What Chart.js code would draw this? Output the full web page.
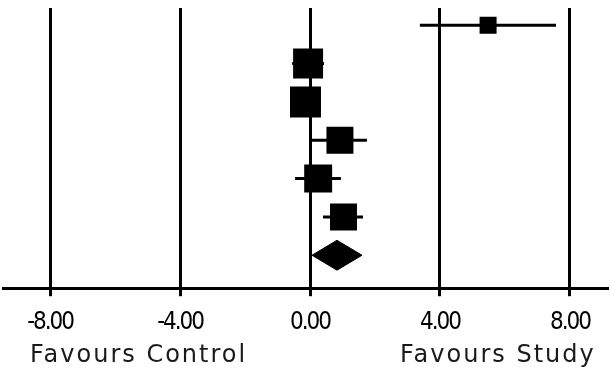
<!DOCTYPE html>
<html>
<head>
<meta charset="utf-8">
<script src="https://cdn.jsdelivr.net/npm/chart.js@4/dist/chart.umd.min.js"></script>
<style>
  body { margin: 0; background: #fff; }
  #wrap { width: 610px; height: 372px; position: relative; }
</style>
</head>
<body>
<div id="wrap"><canvas id="forest"></canvas></div>
<script>
// study rows, top to bottom
var rows = [1, 2, 3, 4, 5, 6];
var est = [5.48, -0.06, -0.14, 0.92, 0.25, 1.03];
var lo = [3.38, -0.55, -0.40, 0.05, -0.46, 0.40];
var hi = [7.57, 0.43, 0.12, 1.75, 0.95, 1.63];
var weights = [6.6, 20.5, 21.9, 16.6, 17.8, 16.6];

// pooled estimate (diamond)
var pooledRow = 7;
var pooled = { est: 0.83, lo: 0.06, hi: 1.60 };

var tickVals = [-8, -4, 0, 4, 8];
var leftLabel = "Favours Control";
var rightLabel = "Favours Study";

var datasets = [];

// confidence interval lines
for (var i = 0; i < rows.length; i++) {
  datasets.push({
    type: "line",
    data: [{ x: lo[i], y: rows[i] }, { x: hi[i], y: rows[i] }],
    borderColor: "#000",
    borderWidth: 3,
    pointRadius: 0,
    fill: false
  });
}

// study squares, side ~ sqrt(weight)
datasets.push({
  type: "scatter",
  data: rows.map(function(r, i) { return { x: est[i], y: r }; }),
  pointStyle: "rect",
  pointRadius: weights.map(function(w) { return 4.68 * Math.sqrt(w); }),
  backgroundColor: "#000",
  borderWidth: 0
});

// pooled diamond
var dh = 0.39;
datasets.push({
  type: "line",
  data: [
    { x: pooled.lo, y: pooledRow },
    { x: pooled.est, y: pooledRow - dh },
    { x: pooled.hi, y: pooledRow },
    { x: pooled.est, y: pooledRow + dh },
    { x: pooled.lo, y: pooledRow }
  ],
  borderColor: "#000",
  borderWidth: 1,
  backgroundColor: "#000",
  pointRadius: 0,
  tension: 0,
  fill: "shape"
});

// tighter tick label spacing
var tightTicks = {
  id: "tightTicks",
  beforeDraw: function(chart) {
    chart.ctx.letterSpacing = "-2px";
  }
};

var favoursLabels = {
  id: "favoursLabels",
  afterDraw: function(chart) {
    var ctx = chart.ctx;
    ctx.save();
    ctx.font = '24px "DejaVu Sans"';
    ctx.letterSpacing = "2px";
    ctx.fillStyle = "#1a1a1a";
    ctx.textBaseline = "alphabetic";
    ctx.textAlign = "left";
    ctx.fillText(leftLabel, 30, 362);
    ctx.fillText(rightLabel, 400, 362);
    ctx.restore();
  }
};

new Chart(document.getElementById("forest"), {
  type: "scatter",
  data: { datasets: datasets },
  options: {
    responsive: true,
    maintainAspectRatio: false,
    animation: false,
    layout: { autoPadding: false, padding: { top: 8, left: 3, right: 3, bottom: 23 } },
    plugins: { legend: { display: false }, tooltip: { enabled: false } },
    scales: {
      x: {
        type: "linear",
        min: -9.45,
        max: 9.14,
        afterBuildTicks: function(scale) {
          scale.ticks = tickVals.map(function(v) { return { value: v }; });
        },
        afterFit: function(scale) {
          scale.paddingLeft = 0;
          scale.paddingRight = 0;
        },
        grid: { color: "#000", lineWidth: 3, tickLength: 8, drawOnChartArea: true },
        border: { display: true, color: "#000", width: 3 },
        ticks: {
          padding: 12,
          color: "#000",
          font: { family: '"DejaVu Sans Condensed", sans-serif', size: 24 },
          callback: function(v) { return Number(v).toFixed(2); }
        }
      },
      y: {
        type: "linear",
        display: false,
        reverse: true,
        min: 0.55,
        max: 7.86
      }
    }
  },
  plugins: [tightTicks, favoursLabels]
});
</script>
</body>
</html>
